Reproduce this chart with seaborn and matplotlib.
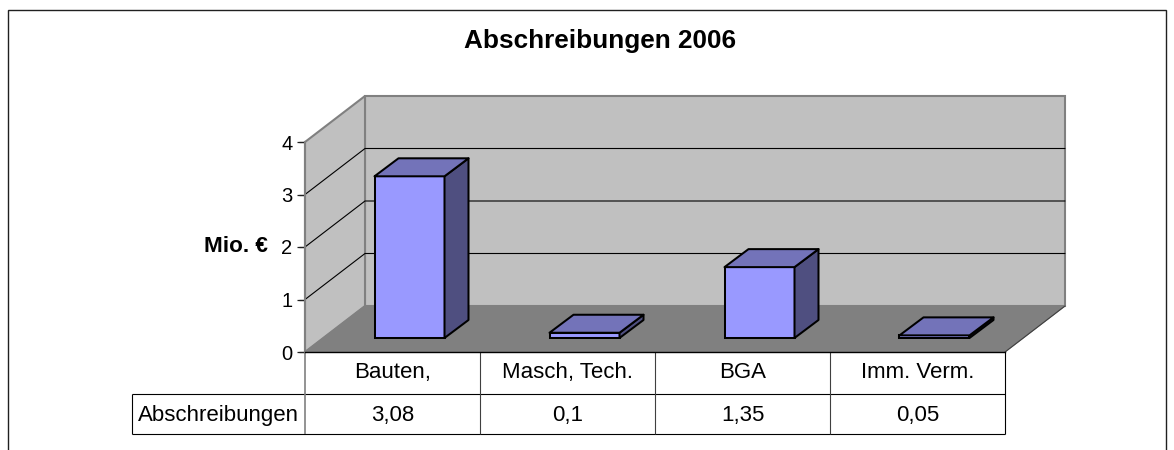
import matplotlib
matplotlib.use("Agg")
import matplotlib.pyplot as plt
from matplotlib.patches import Polygon, Rectangle
import pandas as pd
import seaborn as sns

categories = ["Bauten,", "Masch, Tech.", "BGA", "Imm. Verm."]
values = [3.08, 0.1, 1.35, 0.05]
value_labels = ["3,08", "0,1", "1,35", "0,05"]
series_name = "Abschreibungen"
title = "Abschreibungen 2006"
y_label = "Mio. €"
y_ticks = [0, 1, 2, 3, 4]

W, H = 1174, 450
sns.set_theme(style="white")
plt.rcParams["font.family"] = ["Liberation Sans", "DejaVu Sans"]
plt.rcParams["ytick.left"] = True

fig = plt.figure(figsize=(W / 100, H / 100), dpi=100, facecolor="white")
ax = fig.add_axes([305 / W, (H - 352) / H, 700 / W, 210 / H])
ax.patch.set_visible(False)
ax.set_axisbelow(False)

# pixel scale of the axes
PX_X, PX_Y = 1 / 175, 1 / 52.5
DX, DY = 60 * PX_X, 46 * PX_Y          # total depth of the 3D box
BDX, BDY = 24 * PX_X, 18 * PX_Y        # depth of a bar
OFFX, OFFY = 17 * PX_X, 14 * PX_Y      # bar position inside the depth
X0, X1 = -0.5, 3.5
Y0, Y1 = 0, 4
LW = 1.45

df = pd.DataFrame({"Kategorie": categories, "Wert": values})
sns.barplot(data=df, x="Kategorie", y="Wert", color="#9999FF", saturation=1,
            width=0.4, edgecolor="black", linewidth=LW, ax=ax, zorder=5, errorbar=None)
ax.set_xlim(X0, X1)
ax.set_ylim(Y0, Y1)

# walls and floor
GREY = "#808080"
ax.add_patch(Polygon([(X0 + DX, Y0 + DY), (X1 + DX, Y0 + DY), (X1 + DX, Y1 + DY), (X0 + DX, Y1 + DY)],
                     fc="#C0C0C0", ec=GREY, lw=1.5, clip_on=False, zorder=1))
ax.add_patch(Polygon([(X0, Y0), (X0 + DX, Y0 + DY), (X0 + DX, Y1 + DY), (X0, Y1)],
                     fc="#C0C0C0", ec=GREY, lw=1.5, clip_on=False, zorder=1))
ax.add_patch(Polygon([(X0, Y0), (X1, Y0), (X1 + DX, Y0 + DY), (X0 + DX, Y0 + DY)],
                     fc=GREY, ec=GREY, lw=0.8, clip_on=False, zorder=2))
ax.plot([X1, X1 + DX], [Y0, Y0 + DY], color="#404040", lw=0.8, clip_on=False, zorder=3)
for t in y_ticks[1:-1]:
    ax.plot([X0, X0 + DX, X1 + DX], [t, t + DY, t + DY], color="black", lw=0.8,
            clip_on=False, zorder=3, solid_joinstyle="miter")

# 3D bars
for bar in [p for p in ax.patches if isinstance(p, Rectangle)]:
    bar.set_x(bar.get_x() + OFFX)
    h = bar.get_height()
    bar.set_y(OFFY)
    x, w = bar.get_x(), bar.get_width()
    y = OFFY
    ax.add_patch(Polygon([(x + w, y), (x + w + BDX, y + BDY), (x + w + BDX, y + h + BDY), (x + w, y + h)],
                         fc="#4F4F80", ec="black", lw=LW, clip_on=False, zorder=5, joinstyle="round"))
    ax.add_patch(Polygon([(x, y + h), (x + w, y + h), (x + w + BDX, y + h + BDY), (x + BDX, y + h + BDY)],
                         fc="#7373B9", ec="black", lw=LW, clip_on=False, zorder=5, joinstyle="round"))

# axes styling
for s in ["top", "right"]:
    ax.spines[s].set_visible(False)
ax.spines["left"].set_color(GREY)
ax.spines["left"].set_linewidth(1.5)
ax.spines["left"].set_zorder(6)
ax.spines["bottom"].set_color("black")
ax.spines["bottom"].set_linewidth(1.0)
ax.spines["bottom"].set_zorder(6)
ax.set_yticks(y_ticks)
ax.tick_params(axis="y", which="major", left=True, length=6, width=0.9, color="#202020",
               pad=3, labelsize=14.5, labelcolor="black")
ax.tick_params(axis="x", bottom=False, length=0, pad=7, labelsize=16, labelcolor="black")
ax.set_xlabel("")
ax.set_ylabel("")
for t in y_ticks:
    ax.plot([X0 - 6 * PX_X, X0], [t, t], color="#202020", lw=0.9, clip_on=False, zorder=6,
            solid_capstyle="butt")
ax.set_xlim(X0, X1)
ax.set_ylim(Y0, Y1)

# data table under the chart
ROW1 = -42 * PX_Y
ROW2 = -82 * PX_Y
LEFT = X0 - 173 * PX_X
kw = dict(clip_on=False, zorder=6, solid_capstyle="butt")
ax.plot([LEFT, X1], [ROW1, ROW1], color="black", lw=0.8, **kw)
ax.plot([LEFT, X1], [ROW2, ROW2], color="black", lw=0.8, **kw)
ax.plot([LEFT, LEFT], [ROW1, ROW2], color="black", lw=0.8, **kw)
ax.plot([X0, X0], [Y0, ROW2], color=GREY, lw=1.2, **kw)
for i in range(1, len(categories)):
    ax.plot([X0 + i, X0 + i], [Y0, ROW2], color="#404040", lw=0.8, **kw)
ax.plot([X1, X1], [Y0, ROW2], color="black", lw=0.8, **kw)
rowmid = (ROW1 + ROW2) / 2 - 1 * PX_Y
for i, lab in enumerate(value_labels):
    ax.text(i, rowmid, lab, ha="center", va="center", fontsize=16, color="black")
ax.text(X0 - 6 * PX_X, rowmid, series_name, ha="right", va="center", fontsize=16, color="black")

# outer frame, title, axis label
fig.add_artist(Rectangle((8 / W, -0.1), (1166 - 8) / W, (H - 10) / H + 0.1, fill=False,
                         ec="#202020", lw=1.0, transform=fig.transFigure))
fig.text(600 / W, (H - 41) / H, title, ha="center", va="center", fontsize=18.8, fontweight="bold", color="black")
fig.text(268 / W, (H - 247) / H, y_label, ha="right", va="center", fontsize=16.2, fontweight="bold", color="black")

fig.savefig("out.png", dpi=100)
